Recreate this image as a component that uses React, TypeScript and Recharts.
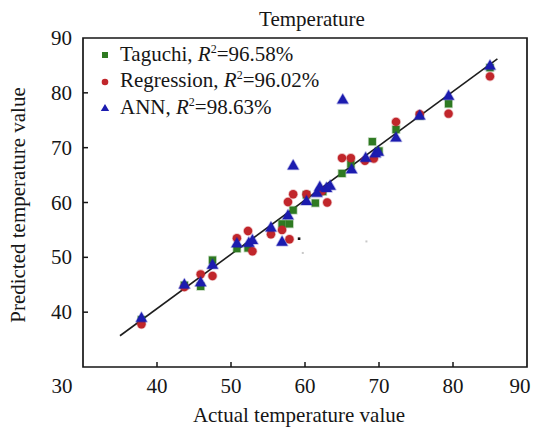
import React from 'react';
import { ScatterChart, Scatter, XAxis, YAxis, ReferenceLine, ReferenceArea, Legend } from 'recharts';

const FONT = '"Liberation Serif", "Times New Roman", Tinos, "DejaVu Serif", serif';
const INK = '#161616';

// Axis ticks
const xTicks = [30, 40, 50, 60, 70, 80, 90];
const yTicks = [40, 50, 60, 70, 80, 90];

// Series: [actual, predicted]
const taguchiPoints: [number, number][] = [
  [37.9, 38.6], [43.7, 44.9], [45.9, 44.7], [47.5, 49.5], [50.8, 51.6], [52.3, 51.7],
  [56.9, 56.1], [57.9, 56.1], [58.4, 58.6], [60.2, 61.4], [61.4, 59.9], [62.4, 62.0],
  [65.0, 65.3], [66.2, 67.0], [69.1, 71.1], [70.0, 69.4], [72.3, 73.3], [75.5, 75.8],
  [79.4, 78.0], [85.0, 84.6],
];
const regressionPoints: [number, number][] = [
  [37.9, 37.8], [43.7, 44.6], [45.9, 46.9], [47.5, 46.6], [50.8, 53.5], [52.3, 54.8],
  [52.9, 51.1], [55.4, 54.2], [56.9, 55.0], [57.9, 53.3], [57.7, 60.1], [58.4, 61.5],
  [60.2, 61.5], [63.0, 60.0], [62.3, 62.1], [65.0, 68.1], [66.2, 68.1], [68.1, 67.6],
  [69.3, 68.0], [72.3, 74.7], [75.5, 76.1], [79.4, 76.2], [85.0, 83.0],
];
const annPoints: [number, number][] = [
  [37.9, 39.0], [43.7, 45.1], [45.9, 45.5], [47.5, 48.7], [50.8, 52.6], [52.4, 52.7],
  [52.9, 53.2], [55.4, 55.5], [56.9, 52.9], [57.7, 57.7], [58.4, 66.8], [60.2, 60.3],
  [61.6, 61.8], [62.0, 62.9], [62.9, 62.7], [63.4, 63.1], [65.1, 78.8], [66.3, 66.1],
  [68.2, 68.2], [69.5, 69.0], [69.9, 69.3], [72.3, 71.9], [75.5, 75.9], [79.4, 79.5],
  [85.0, 85.0],
];
const strayDark: [number, number][] = [[59.2, 53.4]];
const strayLight: [number, number][] = [[68.3, 52.9], [59.7, 50.8]];

// Fitted line endpoints
const fitLine = [
  { x: 35, y: 35.7 },
  { x: 86, y: 86.2 },
];

const seriesNames = ['Taguchi', 'Regression', 'ANN'];
const seriesR2 = ['96.58', '96.02', '98.63'];

const GREEN = '#2f7a22';
const RED = '#c1262b';
const BLUE = '#1c1caf';

const toData = (pts: [number, number][]) => pts.map(([x, y]) => ({ x, y }));

const SquareShape = (p: any) => (
  <rect x={p.cx - 3.6} y={p.cy - 3.6} width={7.2} height={7.2} fill={GREEN}
    stroke={GREEN} strokeOpacity={0.3} strokeWidth={1.6} />
);
const CircleShape = (p: any) => (
  <circle cx={p.cx} cy={p.cy} r={4.2} fill={RED} stroke={RED} strokeOpacity={0.3} strokeWidth={1.6} />
);
const TriangleShape = (p: any) => (
  <polygon
    points={`${p.cx},${p.cy - 5.6} ${p.cx - 5.6},${p.cy + 4.2} ${p.cx + 5.6},${p.cy + 4.2}`}
    fill={BLUE} stroke={BLUE} strokeOpacity={0.3} strokeWidth={1.6} strokeLinejoin="round" />
);
const DarkDot = (p: any) => <rect x={p.cx - 1.3} y={p.cy - 1.3} width={2.6} height={2.6} fill="#111" />;
const LightDot = (p: any) => <rect x={p.cx - 1} y={p.cy - 1} width={2} height={2} fill="#c8c8c8" />;

const XTick = (props: any) => {
  const { x, y, payload } = props;
  const v = payload.value;
  const shift = v === 30 ? -21 : v === 90 ? -7 : 0;
  return (
    <g>
      {v > 30 && v < 90 && (
        <line x1={x} x2={x} y1={y} y2={y - 5} stroke={INK} strokeWidth={1.5} />
      )}
      <text x={x + shift} y={y + 25.5} textAnchor="middle"
        fontFamily={FONT} fontSize={21} fill={INK}>{v}</text>
    </g>
  );
};

const YTick = (props: any) => {
  const { x, y, payload } = props;
  const v = payload.value;
  return (
    <g>
      {v < 90 && <line x1={x} x2={x + 5} y1={y} y2={y} stroke={INK} strokeWidth={1.5} />}
      <text x={x - 11} y={y + 7} textAnchor="end" fontFamily={FONT} fontSize={21} fill={INK}>{v}</text>
    </g>
  );
};

const legendMarkers = [
  <rect key="s" x={4} y={4} width={6} height={6} fill={GREEN} />,
  <circle key="c" cx={7} cy={7} r={3.3} fill={RED} />,
  <polygon key="t" points="7,3 2.8,10 11.2,10" fill={BLUE} />,
];

const LegendContent = () => (
  <div style={{ fontFamily: FONT, fontSize: 21, color: INK }}>
    {seriesNames.map((name, i) => (
      <div key={name} style={{ height: 26.5, display: 'flex', alignItems: 'center', whiteSpace: 'nowrap' }}>
        <svg width={14} height={14} style={{ marginRight: 8, flex: 'none' }}>{legendMarkers[i]}</svg>
        <span style={{ lineHeight: '26px' }}>
          {name}, <i>R</i>
          <span style={{ fontSize: 12, position: 'relative', top: -8 }}>2</span>={seriesR2[i]}%
        </span>
      </div>
    ))}
  </div>
);

export default function App() {
  return (
    <div style={{ width: 531, height: 419, overflow: 'visible' }}>
      <style>{'.recharts-wrapper, .recharts-surface { overflow: visible !important; }'}</style>
      <ScatterChart width={531} height={419} margin={{ top: 30, right: 12, bottom: 0, left: 0 }}
        style={{ fontFamily: FONT, overflow: 'visible' }}>
        <XAxis type="number" dataKey="x" domain={[30, 90]} ticks={xTicks} interval={0}
          allowDataOverflow axisLine={false} tickLine={false} tickSize={0} tickMargin={0}
          height={60} tick={<XTick />} />
        <YAxis type="number" dataKey="y" domain={[30, 90]} ticks={yTicks} interval={0}
          allowDataOverflow axisLine={false} tickLine={false} tickSize={0} tickMargin={0}
          width={75} tick={<YTick />} />
        <ReferenceArea x1={30} x2={90} y1={30} y2={90} fill="none" fillOpacity={0}
          stroke={INK} strokeWidth={1.7} ifOverflow="visible" />
        <ReferenceLine segment={fitLine} stroke="#1e1e1e" strokeWidth={1.6} ifOverflow="visible" />
        <Scatter name="stray-light" data={toData(strayLight)} shape={LightDot} isAnimationActive={false} legendType="none" />
        <Scatter name="stray-dark" data={toData(strayDark)} shape={DarkDot} isAnimationActive={false} legendType="none" />
        <Scatter name="Taguchi" data={toData(taguchiPoints)} shape={SquareShape} fill={GREEN} isAnimationActive={false} />
        <Scatter name="Regression" data={toData(regressionPoints)} shape={CircleShape} fill={RED} isAnimationActive={false} />
        <Scatter name="ANN" data={toData(annPoints)} shape={TriangleShape} fill={BLUE} isAnimationActive={false} />
        <Legend layout="vertical" align="center" verticalAlign="middle" content={<LegendContent />}
          wrapperStyle={{ left: 90, top: 34, width: 300, height: 'auto' }} />
        <text x={304} y={18} textAnchor="middle" fontFamily={FONT} fontSize={21} fill={INK}>Temperature</text>
        <text x={291} y={414} textAnchor="middle" fontFamily={FONT} fontSize={21} fill={INK}>Actual temperature value</text>
        <text x={17} y={197} textAnchor="middle" fontFamily={FONT} fontSize={21} fill={INK}
          transform="rotate(-90 17 197)">Predicted temperature value</text>
      </ScatterChart>
    </div>
  );
}
